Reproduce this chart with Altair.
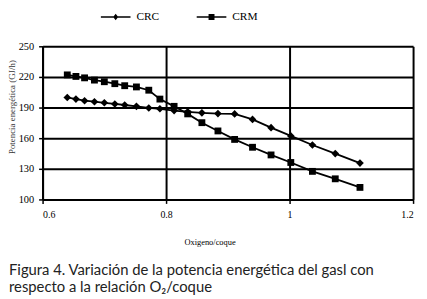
import altair as alt
import pandas as pd

x_vals = [0.640, 0.654, 0.668, 0.684, 0.700, 0.717, 0.733, 0.752, 0.772, 0.790, 0.813,
          0.835, 0.858, 0.884, 0.911, 0.940, 0.970, 1.002, 1.037, 1.074, 1.114]
crc = [199.9, 198.3, 196.7, 195.7, 194.7, 193.5, 192.5, 191.2, 189.6, 188.8, 187.0,
       185.8, 184.8, 184.1, 183.8, 178.4, 170.3, 162.2, 153.3, 144.9, 135.6]
crm = [222.0, 220.5, 219.1, 216.9, 215.3, 213.4, 211.4, 210.2, 207.0, 198.3, 191.2,
       183.8, 175.2, 167.1, 158.8, 151.1, 143.6, 136.2, 127.5, 120.2, 111.8]
series_names = ["CRC", "CRM"]
x_ticks = [0.6, 0.8, 1.0, 1.2]
y_ticks = [100, 130, 160, 190, 220, 250]

rows = []
for name, vals in zip(series_names, [crc, crm]):
    for xv, yv in zip(x_vals, vals):
        rows.append({"serie": name, "x": xv, "y": yv})
df = pd.DataFrame(rows)

serif = "Liberation Serif"

x_enc = alt.X("x:Q", scale=alt.Scale(domain=[0.6, 1.2], nice=False, zero=False),
              axis=alt.Axis(values=x_ticks, format="~g", title="Oxigeno/coque",
                            labelFont=serif, labelFontSize=10, labelColor="black",
                            labelPadding=6, tickSize=4, tickColor="black", tickWidth=1.5,
                            domainColor="black", domainWidth=2, labelOverlap=False,
                            grid=True, gridColor="black", gridWidth=2, gridOpacity=1,
                            titleFont=serif, titleFontSize=8.5, titleFontWeight="normal",
                            titleColor="black", titleX=169, titleY=43,
                            titleBaseline="middle"))
y_enc = alt.Y("y:Q", scale=alt.Scale(domain=[100, 250], nice=False, zero=False),
              axis=alt.Axis(values=y_ticks, title="Potencia energética  (GJ/h)",
                            labelFont=serif, labelFontSize=10.5, labelColor="black",
                            labelPadding=5, tickSize=4, tickColor="black", tickWidth=1.5,
                            domainColor="black", domainWidth=2, labelOverlap=False,
                            grid=True, gridColor="black", gridWidth=2, gridOpacity=1,
                            titleFont=serif, titleFontSize=9, titleFontWeight="normal",
                            titleColor="#333", titleX=-31, titleY=61,
                            titleBaseline="middle", titleAngle=270))

base = alt.Chart(df).encode(x=x_enc, y=y_enc)

lines = base.mark_line(color="black", strokeWidth=1.8).encode(detail="serie:N")

points = base.mark_point(filled=True, color="black", opacity=1).encode(
    shape=alt.Shape("serie:N", scale=alt.Scale(domain=series_names, range=["diamond", "square"]),
                    legend=None),
    size=alt.Size("serie:N", scale=alt.Scale(domain=series_names, range=[60, 48]),
                  legend=None))

crc_path = "M-1,-0.05L1,-0.05L1,0.05L-1,0.05Z M0,-0.22L0.17,0L0,0.22L-0.17,0Z"
crm_path = "M-1,-0.05L1,-0.05L1,0.05L-1,0.05Z M-0.2,-0.2L0.2,-0.2L0.2,0.2L-0.2,0.2Z"

legend_layer = base.mark_point(filled=True, color="black", opacity=0, size=900).encode(
    shape=alt.Shape("serie:N", scale=alt.Scale(domain=series_names, range=[crc_path, crm_path]),
                    legend=alt.Legend(title=None, orient="none", legendX=59, legendY=-45,
                                      direction="horizontal", symbolOpacity=1,
                                      symbolSize=900, symbolFillColor="black",
                                      symbolStrokeWidth=0, labelFont=serif,
                                      labelFontSize=11.5, labelColor="black",
                                      labelOffset=6, columnPadding=37, padding=0)))

chart = alt.layer(lines, points, legend_layer).resolve_scale(
    shape="independent", size="independent").properties(
    width=375, height=155,
    autosize=alt.AutoSizeParams(type="none"),
    padding={"left": 35, "top": 37, "right": 6, "bottom": 99},
    title=alt.TitleParams(
        text=["Figura 4. Variación de la potencia energética del gasl con",
              "respecto a la relación O₂/coque"],
        orient="bottom", anchor="start", frame="group", dx=-34, offset=17,
        font="Lato", fontSize=15, fontWeight="normal", color="#222", lineHeight=17),
    background="white",
).configure_view(stroke=None)

chart.save("out.html", embed_options={"renderer": "svg", "actions": False})
